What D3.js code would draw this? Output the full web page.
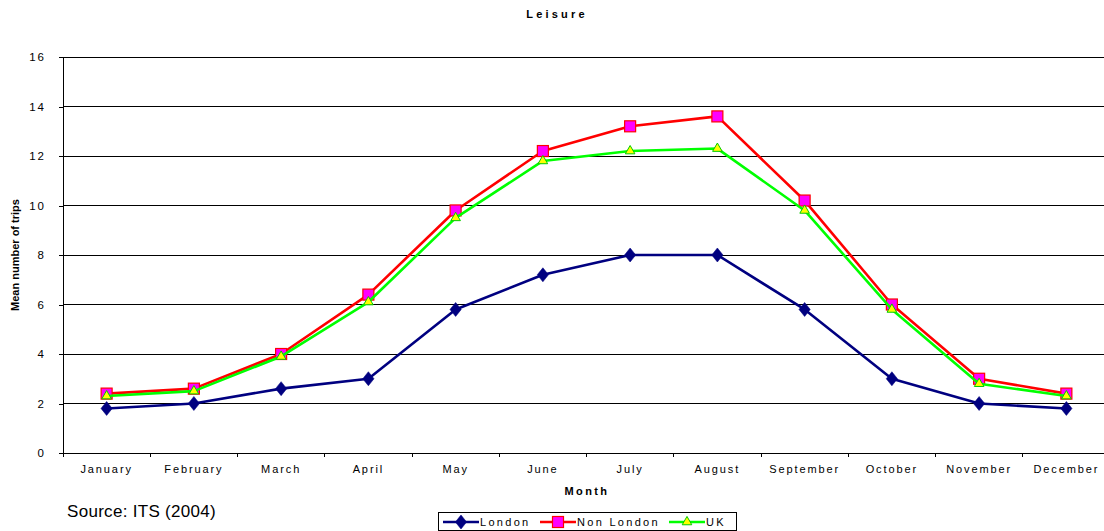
<!DOCTYPE html>
<html><head><meta charset="utf-8">
<script src="https://cdn.jsdelivr.net/npm/d3@7"></script>
<style>body{margin:0;background:#fff;}svg{display:block;font-family:"Liberation Sans",Arial,sans-serif;}</style>
</head><body>
<svg id="c" width="1104" height="531"></svg>
<script>
const months = ["January","February","March","April","May","June","July","August","September","October","November","December"];
const london = [1.8,2.0,2.6,3.0,5.8,7.2,8.0,8.0,5.8,3.0,2.0,1.8];
const nonLondon = [2.4,2.6,4.0,6.4,9.8,12.2,13.2,13.6,10.2,6.0,3.0,2.4];
const uk = [2.3,2.5,3.9,6.1,9.5,11.8,12.2,12.3,9.8,5.8,2.8,2.3];
const yTicks = [0,2,4,6,8,10,12,14,16];

const FF = "Liberation Sans, Arial, sans-serif";
const svg = d3.select("#c");
const L = 63, R = 1110, T = 57, B = 453;
const x = d3.scaleBand().domain(months).range([L, R]);
const y = d3.scaleLinear().domain([0,16]).range([B, T]);

// gridlines
svg.append("g").selectAll("line").data(yTicks.filter(d=>d>0)).join("line")
  .attr("x1", L).attr("x2", R).attr("y1", d=>y(d)).attr("y2", d=>y(d))
  .attr("stroke", "#000").attr("stroke-width", 1).attr("shape-rendering","crispEdges");

// y axis
const ya = svg.append("g").attr("transform", `translate(${L},0)`)
  .call(d3.axisLeft(y).tickValues(yTicks).tickSize(4).tickPadding(13));
ya.select(".domain").attr("stroke","#000").attr("shape-rendering","crispEdges");
ya.selectAll(".tick line").attr("shape-rendering","crispEdges");
ya.selectAll("text").attr("font-size", 11.5).attr("letter-spacing","2px").attr("font-family",FF).attr("fill","#000");

// x axis
const xa = svg.append("g").attr("transform", `translate(0,${B})`)
  .call(d3.axisBottom(x).tickSize(0).tickPadding(12));
xa.select(".domain").remove();
xa.selectAll("text").attr("font-size", 11).attr("letter-spacing", "1.9px")
  .attr("font-family",FF).attr("fill","#000");
svg.append("line").attr("x1", L).attr("x2", R).attr("y1", B).attr("y2", B)
  .attr("stroke","#000").attr("shape-rendering","crispEdges");
const bounds = months.map((m,i)=>x(m)).concat([R]);
svg.append("g").selectAll("line").data(bounds).join("line")
  .attr("x1", d=>d).attr("x2", d=>d).attr("y1", B).attr("y2", B+4)
  .attr("stroke","#000").attr("shape-rendering","crispEdges");

// titles
svg.append("text").attr("x", 557).attr("y", 18).attr("text-anchor","middle")
  .attr("font-size", 11).attr("font-weight","bold").attr("letter-spacing","3.2px").text("Leisure");
svg.append("text").attr("transform", "translate(19,255) rotate(-90)").attr("text-anchor","middle")
  .attr("font-size", 11).attr("font-weight","bold").text("Mean number of trips");
svg.append("text").attr("x", 587).attr("y", 495).attr("text-anchor","middle")
  .attr("font-size", 11).attr("font-weight","bold").attr("letter-spacing","2.4px").text("Month");
svg.append("text").attr("x", 67).attr("y", 517).attr("font-size", 17).attr("letter-spacing","0.3px").text("Source: ITS (2004)");

const cx = m => x(m) + x.bandwidth()/2;
const series = [
  {name:"London", values: london, color:"#000080", marker:"diamond"},
  {name:"Non London", values: nonLondon, color:"#FF0000", marker:"square"},
  {name:"UK", values: uk, color:"#00FF00", marker:"triangle"}
];
const line = d3.line().x((d,i)=>cx(months[i])).y(d=>y(d));

function drawMarker(g, type, px, py){
  if(type==="diamond"){
    g.append("path").attr("d", d3.symbol(d3.symbolDiamond, 70)()).attr("transform",`translate(${px},${py}) scale(1.25,0.9)`)
      .attr("fill","#000080").attr("stroke","#000080").attr("stroke-width",0.5);
  } else if(type==="square"){
    g.append("rect").attr("x", px-5.5).attr("y", py-5.5).attr("width", 11).attr("height", 11)
      .attr("fill","#FF00FF").attr("stroke","#FF0000").attr("stroke-width",1.2);
  } else {
    g.append("path").attr("d", d3.symbol(d3.symbolTriangle, 40)()).attr("transform",`translate(${px},${py})`)
      .attr("fill","#FFFF00").attr("stroke","#00CC00").attr("stroke-width",1);
  }
}

series.forEach(s=>{
  const g = svg.append("g");
  g.append("path").datum(s.values).attr("d", line).attr("fill","none")
    .attr("stroke", s.color).attr("stroke-width", 2.6).attr("stroke-linejoin","round");
  s.values.forEach((v,i)=>drawMarker(g, s.marker, cx(months[i]), y(v)));
});

// legend
const lg = svg.append("g");
lg.append("rect").attr("x", 438.5).attr("y", 512.5).attr("width", 298).attr("height", 18)
  .attr("fill","#fff").attr("stroke","#000").attr("stroke-width",1);
const items = [
  {s: series[0], x0: 443},
  {s: series[1], x0: 540},
  {s: series[2], x0: 669}
];
items.forEach(it=>{
  const ly = 522;
  lg.append("line").attr("x1", it.x0).attr("x2", it.x0+36).attr("y1", ly).attr("y2", ly)
    .attr("stroke", it.s.color).attr("stroke-width", 2.6);
  drawMarker(lg, it.s.marker, it.x0+18, ly);
  lg.append("text").attr("x", it.x0+37).attr("y", ly+4).attr("font-size", 11).attr("letter-spacing","2.3px").text(it.s.name);
});
</script>
</body></html>
